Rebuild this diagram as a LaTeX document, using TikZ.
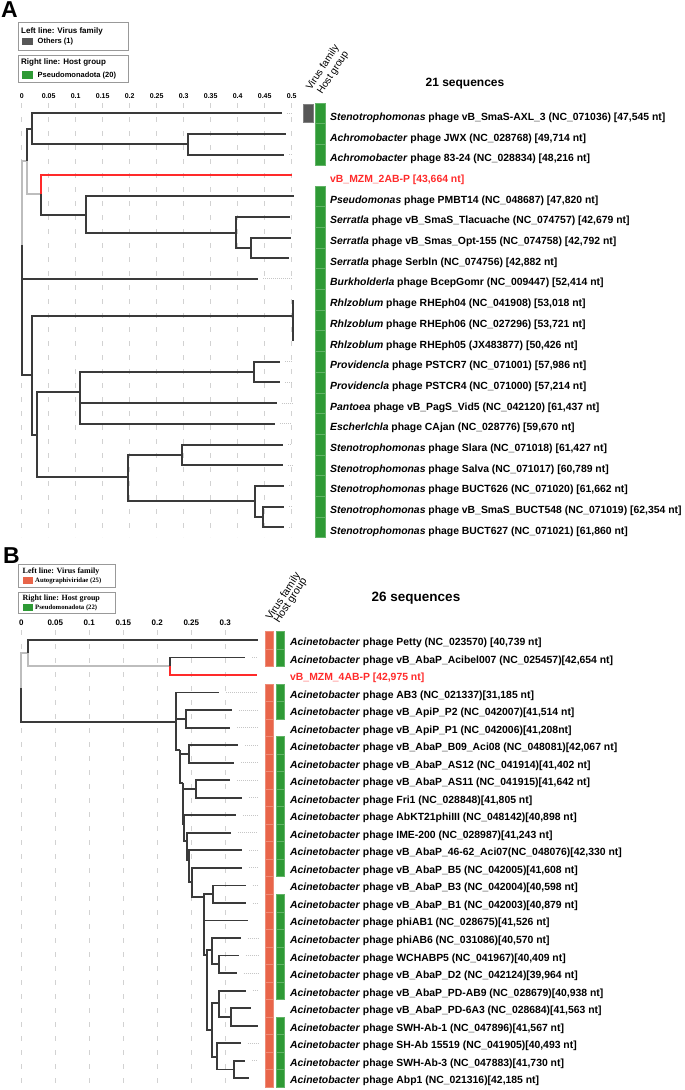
\documentclass[tikz,border=0pt]{standalone}
\usepackage{fontspec}
\setmainfont{Liberation Sans}
\newfontfamily\legserif{Liberation Serif}
\definecolor{vertH}{HTML}{2E9A35}
\definecolor{saumon}{HTML}{E8654A}
\definecolor{grisV}{HTML}{575757}
\definecolor{noirB}{HTML}{3A3A3A}
\definecolor{grisB}{HTML}{BDBDBD}
\definecolor{rougeB}{HTML}{FF2A2A}
\tikzset{
	br/.style={noirB,line width=2pt},
	brclair/.style={grisB,line width=2pt},
	brrouge/.style={rougeB,line width=2pt},
	grille/.style={gray!35,line width=0.7pt,dash pattern=on 5pt off 9pt},
	queue/.style={gray!45,line width=0.9pt,dash pattern=on 1pt off 1pt},
	cellule/.style={fill=#1,draw=#1!75!white,line width=0.4pt},
	cadre/.style={draw=gray!80,line width=0.8pt,anchor=north west,inner sep=0pt},
	carre/.style={inner sep=0pt,minimum width=11pt,minimum height=7.5pt},
	etiqA/.style={anchor=base west,yshift=-7pt,inner sep=0pt,font=\fontsize{10.4}{12}\selectfont\bfseries},
	etiqB/.style={anchor=base west,yshift=-5.5pt,inner sep=0pt,font=\fontsize{10.4}{12}\selectfont\bfseries},
	gradA/.style={font=\fontsize{7}{8}\selectfont\bfseries},
	gradB/.style={font=\fontsize{8}{9}\selectfont\bfseries},
	colonne/.style={rotate=57,anchor=base west,inner sep=0pt,font=\fontsize{10}{12}\selectfont},
	lettre/.style={anchor=base west,inner sep=0pt,font=\fontsize{23}{26}\selectfont\bfseries},
	legA/.style={anchor=west,inner sep=0pt,font=\fontsize{8}{9}\selectfont\bfseries},
	legAi/.style={anchor=west,inner sep=0pt,font=\fontsize{7.5}{9}\selectfont\bfseries},
	legB/.style={anchor=west,inner sep=0pt,font=\legserif\fontsize{8}{9}\selectfont\bfseries},
	legBi/.style={anchor=west,inner sep=0pt,font=\legserif\fontsize{6.7}{8}\selectfont\bfseries},
}
\begin{document}
\begin{tikzpicture}[x=1pt,y=-1pt]
	\useasboundingbox (0,0) rectangle (685,1090);
%					Panneau A : lettre, légende et titre :
	\node[lettre] (lettreA) at (1,17.5) {A};
	\node[cadre,minimum width=110pt,minimum height=28pt] (cadreA1) at (18,22) {};
	\node[legA] (legA1) at (21,31) {Left line: Virus family};
	\node[carre,fill=grisV] (carreA1) at (27.5,41.3) {};
	\node[legAi] (itemA1) at (37.5,41.5) {Others (1)};
	\node[cadre,minimum width=110pt,minimum height=27pt] (cadreA2) at (18,55) {};
	\node[legA] (legA2) at (21,62.5) {Right line: Host group};
	\node[carre,fill=vertH] (carreA2) at (27.5,75) {};
	\node[legAi] (itemA2) at (37.5,75.2) {Pseudomonadota (20)};
	\node[font=\fontsize{12}{14}\selectfont\bfseries] (titreA) at (465,84) {21 sequences};
	\node[colonne] (famA) at (311,91) {Virus family};
	\node[colonne] (hoteA) at (322,95) {Host group};
%					Tracé de la grille A :
	\foreach \k/\t in {0/0,1/0.05,2/0.1,3/0.15,4/0.2,5/0.25,6/0.3,7/0.35,8/0.4,9/0.45,10/0.5}{
		\draw[grille] ({21.7+27*\k},103) -- ({21.7+27*\k},537);
		\node[gradA] (gA\k) at ({21.7+27*\k},96) {\t};
	}
%					Feuilles et noeuds de l'arbre A :
	\coordinate (a1) at (281.7,113.3);
	\coordinate (a2) at (285.7,134.0);
	\coordinate (a3) at (284.3,154.7);
	\coordinate (a4) at (291.7,175.4);
	\coordinate (a5) at (294.3,196.1);
	\coordinate (a6) at (290,216.8);
	\coordinate (a7) at (291,237.5);
	\coordinate (a8) at (289.3,258.2);
	\coordinate (a9) at (258,278.9);
	\coordinate (a10) at (293.3,299.6);
	\coordinate (a11) at (293.3,320.3);
	\coordinate (a12) at (293.3,341.0);
	\coordinate (a13) at (280,361.7);
	\coordinate (a14) at (280,382.4);
	\coordinate (a15) at (276.7,403.1);
	\coordinate (a16) at (275.3,423.8);
	\coordinate (a17) at (283.3,444.5);
	\coordinate (a18) at (282.7,465.2);
	\coordinate (a19) at (284,485.9);
	\coordinate (a20) at (284,506.6);
	\coordinate (a21) at (284,527.3);
	\coordinate (rA) at (21.7,245);
	\coordinate (nU) at (26.7,160.7);
	\coordinate (nU1) at (32,128.8);
	\coordinate (nAch) at (187.7,144.35);
	\coordinate (nV) at (41,194);
	\coordinate (nPs) at (86,214.5);
	\coordinate (nSer) at (235.7,232.9);
	\coordinate (nSer2) at (251,247.85);
	\coordinate (nL) at (32,375);
	\coordinate (nRh) at (293.3,316);
	\coordinate (nL2) at (36.7,435);
	\coordinate (nPr) at (80,391.7);
	\coordinate (nPr1) at (254.3,372.05);
	\coordinate (nSt) at (128.3,476.7);
	\coordinate (nSt1) at (181.7,454.85);
	\coordinate (nSt2) at (255,501.4);
	\coordinate (nSt3) at (263.3,516.95);
%					Tracé des branches A :
	\draw[brclair] (rA) |- (nU);
	\draw[brclair] (nU) |- (nV);
	\draw[brrouge] (nV) |- (a4);
	\foreach \p/\c in {rA/a9,rA/nL,nU/nU1,nU1/a1,nU1/nAch,nAch/a2,nAch/a3,nV/nPs,nPs/a5,nPs/nSer,nSer/a6,nSer/nSer2,nSer2/a7,nSer2/a8,nL/nRh,nRh/a10,nRh/a11,nRh/a12,nL/nL2,nL2/nPr,nL2/nSt,nPr/nPr1,nPr/a15,nPr/a16,nPr1/a13,nPr1/a14,nSt/nSt1,nSt/nSt2,nSt1/a17,nSt1/a18,nSt2/a19,nSt2/nSt3,nSt3/a20,nSt3/a21}
		\draw[br] (\p) |- (\c);
	\foreach \c in {a1,a3,a9,a13,a14,a15,a16,a17,a18,a19,a20,a21}
		\draw[queue] ([xshift=5pt]\c) -- (\c -| 292,0);
%					Colonnes de couleur A :
	\filldraw[cellule=grisV] (303,104.3) rectangle (312.7,122.3);
	\foreach \i in {1,2,3,5,6,...,21}
		\filldraw[cellule=vertH] (315,{113.3+(\i-1)*20.7-10.35}) rectangle (325,{113.3+(\i-1)*20.7+10.35});
%					Etiquettes A :
	\node[etiqA] (la1) at (330,113.3) {\textit{Stenotrophomonas} phage vB\_SmaS-AXL\_3 (NC\_071036) [47,545 nt]};
	\node[etiqA] (la2) at (330,134.0) {\textit{Achromobacter} phage JWX (NC\_028768) [49,714 nt]};
	\node[etiqA] (la3) at (330,154.7) {\textit{Achromobacter} phage 83-24 (NC\_028834) [48,216 nt]};
	\node[etiqA,text=rougeB] (la4) at (330,175.4) {vB\_MZM\_2AB-P [43,664 nt]};
	\node[etiqA] (la5) at (330,196.1) {\textit{Pseudomonas} phage PMBT14 (NC\_048687) [47,820 nt]};
	\node[etiqA] (la6) at (330,216.8) {\textit{Serratla} phage vB\_SmaS\_Tlacuache (NC\_074757) [42,679 nt]};
	\node[etiqA] (la7) at (330,237.5) {\textit{Serratla} phage vB\_Smas\_Opt-155 (NC\_074758) [42,792 nt]};
	\node[etiqA] (la8) at (330,258.2) {\textit{Serratla} phage Serbln (NC\_074756) [42,882 nt]};
	\node[etiqA] (la9) at (330,278.9) {\textit{Burkholderla} phage BcepGomr (NC\_009447) [52,414 nt]};
	\node[etiqA] (la10) at (330,299.6) {\textit{Rhlzoblum} phage RHEph04 (NC\_041908) [53,018 nt]};
	\node[etiqA] (la11) at (330,320.3) {\textit{Rhlzoblum} phage RHEph06 (NC\_027296) [53,721 nt]};
	\node[etiqA] (la12) at (330,341.0) {\textit{Rhlzoblum} phage RHEph05 (JX483877) [50,426 nt]};
	\node[etiqA] (la13) at (330,361.7) {\textit{Providencla} phage PSTCR7 (NC\_071001) [57,986 nt]};
	\node[etiqA] (la14) at (330,382.4) {\textit{Providencla} phage PSTCR4 (NC\_071000) [57,214 nt]};
	\node[etiqA] (la15) at (330,403.1) {\textit{Pantoea} phage vB\_PagS\_Vid5 (NC\_042120) [61,437 nt]};
	\node[etiqA] (la16) at (330,423.8) {\textit{Escherlchla} phage CAjan (NC\_028776) [59,670 nt]};
	\node[etiqA] (la17) at (330,444.5) {\textit{Stenotrophomonas} phage Slara (NC\_071018) [61,427 nt]};
	\node[etiqA] (la18) at (330,465.2) {\textit{Stenotrophomonas} phage Salva (NC\_071017) [60,789 nt]};
	\node[etiqA] (la19) at (330,485.9) {\textit{Stenotrophomonas} phage BUCT626 (NC\_071020) [61,662 nt]};
	\node[etiqA] (la20) at (330,506.6) {\textit{Stenotrophomonas} phage vB\_SmaS\_BUCT548 (NC\_071019) [62,354 nt]};
	\node[etiqA] (la21) at (330,527.3) {\textit{Stenotrophomonas} phage BUCT627 (NC\_071021) [61,860 nt]};
%					Panneau B : lettre, légende et titre :
	\node[lettre] (lettreB) at (3,563.5) {B};
	\node[cadre,minimum width=96.7pt,minimum height=22.4pt] (cadreB1) at (18.3,564.3) {};
	\node[legB] (legB1) at (22.5,571.3) {Left line: Virus family};
	\node[carre,minimum width=10pt,minimum height=7pt,fill=saumon] (carreB1) at (28.3,580.8) {};
	\node[legBi] (itemB1) at (35,581.3) {Autographiviridae (25)};
	\node[cadre,minimum width=96.7pt,minimum height=21.6pt] (cadreB2) at (18.3,591.7) {};
	\node[legB] (legB2) at (22.5,598.5) {Right line: Host group};
	\node[carre,minimum width=10pt,minimum height=7pt,fill=vertH] (carreB2) at (28.3,607.3) {};
	\node[legBi] (itemB2) at (35,607.8) {Pseudomonadota (22)};
	\node[font=\fontsize{13.5}{15}\selectfont\bfseries] (titreB) at (416,597.7) {26 sequences};
	\node[colonne,font=\fontsize{10.5}{12}\selectfont] (famB) at (271,621) {Virus family};
	\node[colonne,font=\fontsize{10.5}{12}\selectfont] (hoteB) at (279,624) {Host group};
%					Tracé de la grille B :
	\foreach \k/\t in {0/0,1/0.05,2/0.1,3/0.15,4/0.2,5/0.25,6/0.3}{
		\draw[grille] ({21.3+34*\k},630) -- ({21.3+34*\k},1086);
		\node[gradB] (gB\k) at ({21.3+34*\k},623) {\t};
	}
%					Feuilles et noeuds de l'arbre B :
	\foreach \i/\x in {1/258.3,2/245,3/256.7,4/219.3,5/231.7,6/230,7/238.3,8/234.3,9/230,10/242.3,11/236,12/231,13/242.3,14/242.3,15/245.7,16/245.7,17/248.3,18/240.7,19/238.7,20/236.7,21/245.7,22/250.7,23/257.7,24/240.7,25/245,26/249.3}
		\coordinate (b\i) at (\x,{640+(\i-1)*17.53});
	\coordinate (rB) at (21.3,688);
	\coordinate (nT) at (28,653.3);
	\coordinate (nT2) at (170,666.3);
	\coordinate (nB) at (176,721.7);
	\coordinate (nAp) at (185.7,718.9);
	\coordinate (nC) at (180,750);
	\coordinate (nAS) at (189,753.95);
	\coordinate (nD) at (182.7,783.3);
	\coordinate (nAS11) at (195.7,789);
	\coordinate (nE) at (184.3,824);
	\coordinate (nF) at (187.3,841);
	\coordinate (nG) at (189.3,860);
	\coordinate (nH) at (191.7,882);
	\coordinate (nI) at (204,896.7);
	\coordinate (nB3) at (213.3,894.2);
	\coordinate (nJ) at (206.7,955);
	\coordinate (nK) at (212.3,950);
	\coordinate (nWD) at (219,964.3);
	\coordinate (nM) at (212.3,1030);
	\coordinate (nPD) at (219,1003.3);
	\coordinate (nPD2) at (231,1016.9);
	\coordinate (nSH) at (216.7,1056.7);
	\coordinate (nSW) at (234.3,1069.5);
%					Tracé des branches B :
	\draw[brclair,line width=1.8pt] (rB) |- (nT);
	\draw[brclair,line width=1.8pt] (nT) |- (nT2);
	\draw[brrouge,line width=1.8pt] (nT2) |- (b3);
	\foreach \p/\c in {nT/b1,nT2/b2,rB/nB,nB/b4,nB/nAp,nB/nC,nAp/b5,nAp/b6,nC/nAS,nC/nD,nAS/b7,nAS/b8,nD/nAS11,nD/nE,nAS11/b9,nAS11/b10,nE/b11,nE/nF,nF/b12,nF/nG,nG/b13,nG/nH,nH/b14,nH/nI,nI/nB3,nI/b17,nI/nJ,nB3/b15,nB3/b16,nJ/nK,nJ/nM,nK/b18,nK/nWD,nWD/b19,nWD/b20,nM/nPD,nM/nSH,nPD/b21,nPD/nPD2,nPD2/b22,nPD2/b23,nSH/b24,nSH/nSW,nSW/b25,nSW/b26}
		\draw[br,line width=1.8pt] (\p) |- (\c);
	\foreach \c in {b2,b4,b5,b6,b7,b8,b9,b10,b11,b12,b13,b14,b15,b16,b18,b19,b20,b21,b24,b25}
		\draw[queue] ([xshift=7pt]\c) -- (\c -| 258,0);
%					Colonnes de couleur B :
	\foreach \i in {1,2,4,5,...,26}
		\filldraw[cellule=saumon] (265,{640+(\i-1)*17.53-8.77}) rectangle (272.7,{640+(\i-1)*17.53+8.77});
	\foreach \i in {1,2,4,5,7,8,...,14,16,17,...,21,23,24,25,26}
		\filldraw[cellule=vertH] (276,{640+(\i-1)*17.53-8.77}) rectangle (284,{640+(\i-1)*17.53+8.77});
%					Etiquettes B :
	\node[etiqB] (lb1) at (290,640.00) {\textit{Acinetobacter} phage Petty (NC\_023570) [40,739 nt]};
	\node[etiqB] (lb2) at (290,657.53) {\textit{Acinetobacter} phage vB\_AbaP\_Acibel007 (NC\_025457)[42,654 nt]};
	\node[etiqB,text=rougeB] (lb3) at (290,675.06) {vB\_MZM\_4AB-P [42,975 nt]};
	\node[etiqB] (lb4) at (290,692.59) {\textit{Acinetobacter} phage AB3 (NC\_021337)[31,185 nt]};
	\node[etiqB] (lb5) at (290,710.12) {\textit{Acinetobacter} phage vB\_ApiP\_P2 (NC\_042007)[41,514 nt]};
	\node[etiqB] (lb6) at (290,727.65) {\textit{Acinetobacter} phage vB\_ApiP\_P1 (NC\_042006)[41,208nt]};
	\node[etiqB] (lb7) at (290,745.18) {\textit{Acinetobacter} phage vB\_AbaP\_B09\_Aci08 (NC\_048081)[42,067 nt]};
	\node[etiqB] (lb8) at (290,762.71) {\textit{Acinetobacter} phage vB\_AbaP\_AS12 (NC\_041914)[41,402 nt]};
	\node[etiqB] (lb9) at (290,780.24) {\textit{Acinetobacter} phage vB\_AbaP\_AS11 (NC\_041915)[41,642 nt]};
	\node[etiqB] (lb10) at (290,797.77) {\textit{Acinetobacter} phage Fri1 (NC\_028848)[41,805 nt]};
	\node[etiqB] (lb11) at (290,815.30) {\textit{Acinetobacter} phage AbKT21phiIII (NC\_048142)[40,898 nt]};
	\node[etiqB] (lb12) at (290,832.83) {\textit{Acinetobacter} phage IME-200 (NC\_028987)[41,243 nt]};
	\node[etiqB] (lb13) at (290,850.36) {\textit{Acinetobacter} phage vB\_AbaP\_46-62\_Aci07(NC\_048076)[42,330 nt]};
	\node[etiqB] (lb14) at (290,867.89) {\textit{Acinetobacter} phage vB\_AbaP\_B5 (NC\_042005)[41,608 nt]};
	\node[etiqB] (lb15) at (290,885.42) {\textit{Acinetobacter} phage vB\_AbaP\_B3 (NC\_042004)[40,598 nt]};
	\node[etiqB] (lb16) at (290,902.95) {\textit{Acinetobacter} phage vB\_AbaP\_B1 (NC\_042003)[40,879 nt]};
	\node[etiqB] (lb17) at (290,920.48) {\textit{Acinetobacter} phage phiAB1 (NC\_028675)[41,526 nt]};
	\node[etiqB] (lb18) at (290,938.01) {\textit{Acinetobacter} phage phiAB6 (NC\_031086)[40,570 nt]};
	\node[etiqB] (lb19) at (290,955.54) {\textit{Acinetobacter} phage WCHABP5 (NC\_041967)[40,409 nt]};
	\node[etiqB] (lb20) at (290,973.07) {\textit{Acinetobacter} phage vB\_AbaP\_D2 (NC\_042124)[39,964 nt]};
	\node[etiqB] (lb21) at (290,990.60) {\textit{Acinetobacter} phage vB\_AbaP\_PD-AB9 (NC\_028679)[40,938 nt]};
	\node[etiqB] (lb22) at (290,1008.13) {\textit{Acinetobacter} phage vB\_AbaP\_PD-6A3 (NC\_028684)[41,563 nt]};
	\node[etiqB] (lb23) at (290,1025.66) {\textit{Acinetobacter} phage SWH-Ab-1 (NC\_047896)[41,567 nt]};
	\node[etiqB] (lb24) at (290,1043.19) {\textit{Acinetobacter} phage SH-Ab 15519 (NC\_041905)[40,493 nt]};
	\node[etiqB] (lb25) at (290,1060.72) {\textit{Acinetobacter} phage SWH-Ab-3 (NC\_047883)[41,730 nt]};
	\node[etiqB] (lb26) at (290,1078.25) {\textit{Acinetobacter} phage Abp1 (NC\_021316)[42,185 nt]};
\end{tikzpicture}
\end{document}
